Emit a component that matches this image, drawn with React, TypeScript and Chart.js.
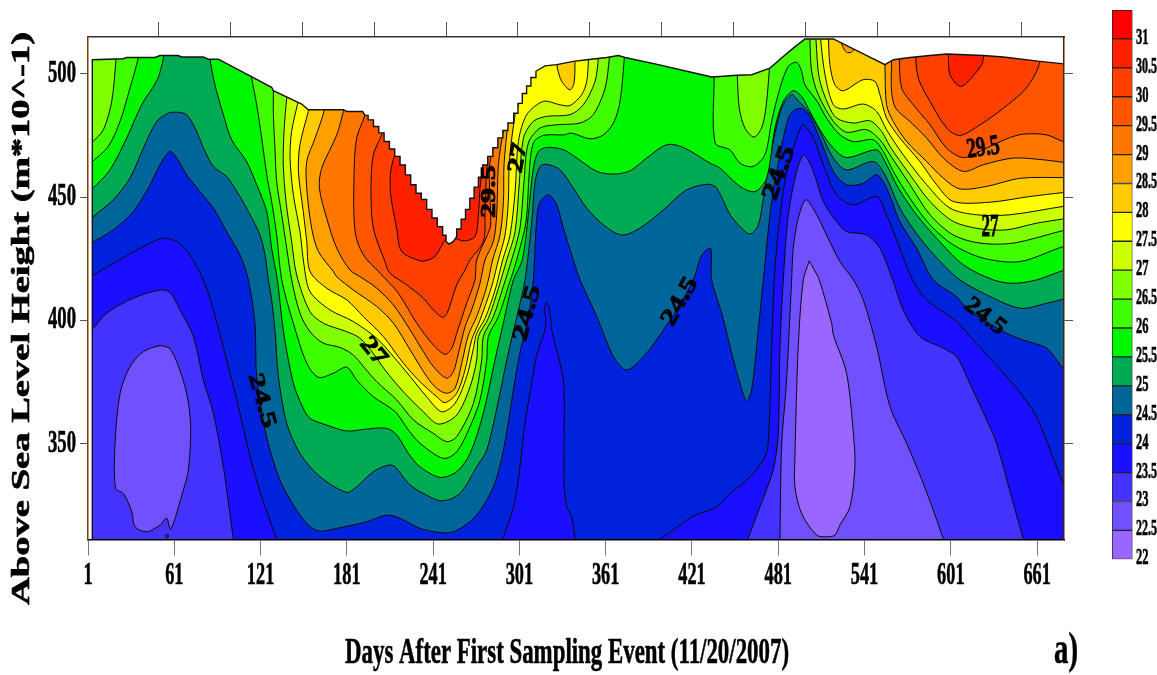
import React, { useEffect, useRef } from "react";
import { Chart, registerables } from "chart.js";

Chart.register(...registerables);

type P = number[];

// Axis ticks (days, metres*10^-1) and legend levels
const xTicks = [1, 61, 121, 181, 241, 301, 361, 421, 481, 541, 601, 661];
const xTopTicks = [50, 100, 150, 200, 250, 300, 350, 400, 450, 500, 550, 600, 650];
const yTicks = [350, 400, 450, 500];
const legendLevels = [22, 22.5, 23, 23.5, 24, 24.5, 25, 25.5, 26, 26.5, 27, 27.5, 28, 28.5, 29, 29.5, 30, 30.5, 31];
const legendColors = ["#9966ff", "#7050ff", "#4433ff", "#1a10ff", "#0022dd", "#006699", "#00aa55", "#00f500", "#40ff00", "#80ff00", "#ccff00", "#ffff00", "#ffcc00", "#ffa000", "#ff7700", "#ff5500", "#ff4000", "#ff2000", "#ff0000"];

// Water surface (top of the contoured domain); the limbs of the drawdown are stepped in the source
const surfaceLeft: P[] = [[4, 300], [4, 505.7], [25.6, 506.1], [27.9, 506.6], [47.6, 506.6], [51.1, 507.4], [63.8, 507.4], [66.1, 506.8], [81.2, 506.8], [84.7, 505.9], [91.6, 505.9], [128.7, 494.5], [129.9, 493.1], [149.6, 487.7], [154.2, 485.4], [178.6, 485.4], [180.9, 484.7], [192, 484.7], [193.6, 483.1]];
const surfaceFall: P[] = [[195.8, 483.1], [195.8, 481.3], [199.5, 481.3], [199.5, 478.6], [203.2, 478.6], [203.2, 476], [206.9, 476], [206.9, 472.5], [210.6, 472.5], [210.6, 469.5], [214.3, 469.5], [214.3, 466.5], [218, 466.5], [218, 463], [221.7, 463], [221.7, 459], [225.4, 459], [225.4, 455], [229.1, 455], [229.1, 451.5], [232.8, 451.5], [232.8, 449], [236.5, 449], [236.5, 445], [240.2, 445], [240.2, 441.5], [243.9, 441.5], [243.9, 438], [247.6, 438], [247.6, 434.5], [250, 434.5], [250, 432], [252.1, 430.9]];
const surfaceRise: P[] = [[255.1, 432], [257.4, 434], [257.4, 437], [260.5, 437], [260.5, 441], [263.5, 441], [263.5, 445], [266.5, 445], [266.5, 449.5], [269.5, 449.5], [269.5, 454], [272.5, 454], [272.5, 458], [275.5, 458], [275.5, 463], [279, 463], [279, 466.5], [282.5, 466.5], [282.5, 470], [286, 470], [286, 474], [289.5, 474], [289.5, 477], [293, 477], [293, 480], [297, 480], [297, 484], [300, 484], [300, 488], [303, 488], [303, 492], [306, 492], [306, 495], [309, 495], [309, 498.5], [312.5, 498.5], [312.5, 501]];
const surfaceRight: P[] = [[318.8, 503.2], [327, 503.7], [338.5, 505], [347.8, 505.7], [361.7, 506.6], [369.8, 507.4], [374.5, 506.6], [397.6, 503.7], [417.4, 501], [434.7, 498.7], [440.5, 498.9], [452, 499.4], [462.5, 499.6], [475.2, 502.3], [484.5, 507], [491.4, 510.4], [499.6, 514.1], [519.3, 514.1], [555.2, 503.7], [561, 505.7], [572.6, 506.6], [586.5, 507.4], [598.1, 508], [623.6, 507.4], [637.5, 506.8], [663, 505], [679.9, 504], [700, 504], [700, 525], [-5, 525], [-5, 300], [4, 300]];

// Warm isolines
const t245: P[] = [[-5, 425], [4, 431.3], [18.6, 436.7], [32.5, 444.1], [42.9, 453.6], [51.1, 463.1], [58, 468.5], [62.7, 465.8], [69.6, 459], [78.9, 452.2], [88.2, 445.5], [97.4, 436], [106.7, 426.5], [112.5, 416.4], [117.1, 398.8], [118.3, 377.2], [125.2, 352.8], [134.5, 335.2], [146.1, 323], [155.4, 316.3], [162.3, 314.5], [173.9, 315.6], [194.8, 318.3], [208.7, 321], [218, 319.7], [231.9, 315.6], [244.7, 314], [255.1, 314.2], [270.2, 320.3], [282.9, 332.5], [289.9, 347.4], [300.3, 383.9], [307.2, 401.5], [310.7, 416.4], [312.6, 437.4], [314.9, 447.5], [321.2, 450.9], [326.9, 446.8], [331.6, 437.4], [337.4, 426.5], [343.2, 416.4], [354.8, 401.5], [366.4, 385.3], [375.6, 379.9], [388.4, 386], [401.1, 396.1], [410.4, 404.2], [422, 416.4], [427.8, 426.5], [434, 429.2], [434.7, 416.4], [441.7, 402.9], [449.8, 383.9], [454.4, 374.5], [459, 367.3], [462.5, 371.8], [467.1, 396.1], [470.6, 416.4], [476.4, 448.2], [482.2, 467.1], [488, 482], [492.6, 485.4], [497.9, 485.8], [503, 482.7], [511.1, 471.9], [519.3, 460.4], [528.5, 455], [540.1, 455.6], [549.4, 459], [556.3, 453.6], [565.6, 440], [577.2, 429.2], [588.8, 416.4], [605, 409.6], [613.1, 404.2], [637.5, 395.4], [651.4, 392], [667.6, 388.7], [679.9, 380.1], [688.5, 377]];
const t25: P[] = [[-5, 436], [4, 441.7], [18.6, 448.9], [30.2, 457.7], [39.5, 469.8], [48.8, 480.7], [56.9, 484], [62.7, 484.4], [69.6, 483.4], [75.4, 478], [82.4, 468.5], [88.2, 462.4], [97.4, 458.3], [106.7, 450.2], [113.7, 442.8], [120.6, 434.6], [124.1, 426.5], [126.4, 416.4], [128.7, 408.3], [131, 396.1], [133.4, 377.2], [139.2, 358.2], [148.4, 346], [162.3, 336.6], [180.9, 330.2], [187.8, 332.5], [199.4, 338.6], [209.9, 341.3], [214.5, 340.6], [223.8, 333.9], [231.9, 330.5], [247, 326.8], [259.7, 329.8], [271.3, 340.6], [278.3, 347.4], [287.5, 370.4], [292.2, 383.9], [300.3, 404.2], [304.9, 416.4], [309.6, 440], [311.9, 456.3], [315.4, 462.4], [320, 463.3], [329.3, 461], [338.5, 453.6], [347.8, 445.5], [359.4, 438.7], [372.1, 434.6], [384.9, 437.4], [401.1, 444.8], [417.3, 452.9], [432.4, 455.2], [438.2, 453.6], [447.5, 442.8], [454.4, 438], [461.3, 435], [467.1, 438.7], [470.6, 449.5], [475.2, 465.8], [483.3, 486.1], [490.3, 491.5], [494.9, 489], [501.9, 484.7], [510, 476.6], [519.3, 465.8], [528.5, 461], [547.1, 464.4], [555.2, 459], [565.6, 445.5], [579.5, 433.3], [595.8, 422.5], [607.3, 416.4], [623.6, 411], [649, 404.9], [667.6, 406.9], [679.9, 408.6], [688.5, 409]];
const t255Left: P[] = [[-5, 448], [4, 453.3], [16.3, 461], [27.9, 473.9], [38.3, 487.4], [49.2, 497.6], [53.4, 506.4], [53.8, 510.4]];
const t255Main: P[] = [[85.8, 510.4], [85.8, 506.1], [89.3, 495.5], [95.1, 483.4], [100.9, 473.2], [111.3, 464.4], [118.3, 455], [125.3, 444.1], [128.7, 429.2], [132.7, 416.4], [136.8, 396.1], [143.8, 374.5], [150.7, 364.3], [155.4, 360.2], [167, 357.5], [180.9, 355.1], [194.8, 355.9], [208.7, 356.2], [215.7, 353.5], [223.8, 346], [231.9, 340.6], [245.8, 336.3], [257.4, 338.6], [266.7, 346], [275.9, 362.3], [284, 383.9], [289.8, 398.8], [296.8, 416.4], [303, 424.5], [307.2, 442.8], [310.7, 461.7], [314.2, 468.5], [320, 470.1], [331.6, 469.2], [340.9, 465.8], [354.8, 460.4], [366.4, 459.3], [377.9, 460.6], [389.5, 465.8], [403.4, 471.2], [415, 470.1], [433.6, 463.7], [440.5, 461.7], [454.4, 454.3], [464.8, 452.2], [472.9, 457.6], [478.7, 478], [484.5, 488.8], [491.4, 493.1], [497.2, 490.8], [503, 484.7], [510, 477.3], [519.3, 469.8], [528.5, 466], [549.4, 469.1], [555.2, 464.4], [564.5, 453.6], [577.2, 442.8], [591.1, 433.3], [609.7, 422.5], [630.5, 416.4], [644.4, 415], [660.7, 416.4], [679.2, 420.2], [688.5, 421]];
const t26Left: P[] = [[-5, 460], [4, 464.4], [15.1, 470.5], [23.3, 480.7], [30.2, 494.2], [36, 506.4], [36.7, 510.4]];
const t26Main: P[] = [[113.7, 502.3], [114.8, 498.2], [118.3, 487.4], [121.8, 473.9], [125.3, 459], [128.7, 448.2], [132.2, 434.6], [135.7, 416.4], [143.8, 398.8], [153.1, 382.6], [161.2, 376.9], [171.6, 378.5], [180.9, 381], [187.8, 375.8], [199.4, 369], [214.5, 363], [223.8, 355.5], [231.9, 350.1], [248.1, 344], [257.4, 346.7], [266.7, 356.9], [273.6, 367.7], [278.3, 383.9], [279.4, 393.4], [286.4, 401.5], [293.3, 413.7], [299.1, 424.5], [305.6, 440], [307.9, 460.4], [310.7, 471.9], [317.7, 475], [331.6, 475.2], [337.4, 475.9], [350.1, 473.6], [359.4, 475.2], [366.4, 480], [371, 488.8], [374, 506.6], [374.5, 510.4]];
const t26Right: P[] = [[436.4, 503.7], [436.4, 499], [437.1, 471.9], [447.5, 469.1], [454.4, 463.7], [463.6, 462.4], [471.7, 467.1], [476.4, 480.7], [482.2, 494.2], [488, 503], [493.8, 504.6], [497.2, 501], [499.6, 495.5], [508.1, 488.8], [514.6, 482], [523.9, 475.2], [533.2, 472.5], [547.1, 473.2], [554, 468.5], [561, 460.4], [572.6, 449.5], [586.5, 438.7], [602.7, 430.6], [623.6, 425.2], [649, 423.8], [679.2, 429.9], [688.5, 430.6]];
const t265Left: P[] = [[-5, 468], [4, 472.3], [11.7, 477.3], [17.5, 488.8], [20.5, 505.7], [21, 510.4]];
const t265Main: P[] = [[129.9, 498.2], [129.9, 493.5], [129.9, 483.4], [131, 469.8], [132.2, 456.3], [135.7, 442.8], [139.2, 429.2], [142.6, 416.4], [148.4, 402.9], [155.4, 395.4], [164.7, 390.7], [176.3, 389], [185.5, 385.9], [193.6, 380.5], [201.8, 375.1], [215.7, 367.7], [227.3, 359.6], [241.2, 354.1], [250.4, 350.8], [257.4, 352.8], [269, 366.3], [274.8, 383.9], [275.9, 393.4], [282.9, 401.5], [289.8, 413.7], [295.6, 424.5], [301.4, 437.4], [304.2, 456.3], [307.2, 471.9], [315.4, 478], [327, 479.3], [343.2, 480], [352.4, 483.4], [360.6, 494.2], [363.6, 506.6], [364, 510.4]];
const t265Pocket: P[] = [[452.5, 503.6], [452.5, 499.6], [453.9, 486.1], [457.8, 478], [464.1, 474.3], [469.4, 478], [472.4, 486.1], [474.8, 501.6], [475.2, 506.4]];
const t265Right: P[] = [[503, 515.8], [503, 514], [504.2, 501], [508.8, 491.5], [519.3, 480.7], [528.5, 476.3], [542.4, 477.3], [551.7, 473.2], [558.7, 467.1], [572.6, 455], [586.5, 442.8], [602.7, 434.6], [621.3, 431.3], [644.4, 431.3], [679.2, 436.4], [688.5, 437.4]];
const t27Main: P[] = [[140.3, 494.2], [139.2, 490.1], [137.3, 476.6], [136.8, 463.1], [138.7, 448.2], [142.6, 432], [146.1, 418.4], [155.4, 403.5], [164.7, 398.8], [180.9, 395.4], [190.2, 392.7], [199.4, 386.6], [207.6, 379.8], [220.3, 371], [234.2, 362.9], [244.6, 357.9], [257.4, 361.6], [266.7, 373.1], [271.3, 383.9], [272.5, 393.4], [279.4, 400.8], [286.4, 413], [292.2, 424.5], [298, 436], [301, 456.3], [303.8, 473.9], [310.7, 480.7], [320, 482.7], [336.2, 483.4], [345.5, 487.4], [353.6, 496.9], [355.9, 506.4], [356.2, 510.4]];
const t27Right: P[] = [[507.2, 515.8], [507.2, 514], [509.5, 498.2], [515.8, 487.4], [521.6, 482], [533.2, 480], [544.8, 480.9], [552.9, 476.6], [558.7, 470.5], [572.6, 459], [586.5, 448.2], [602.7, 440.1], [621.3, 437.1], [639.8, 436.7], [660.7, 439.4], [679.2, 441.1], [688.5, 442]];
const t275Main: P[] = [[148.4, 491.5], [146.6, 487.4], [142.6, 476.6], [141.5, 465.8], [143.8, 450.9], [148.4, 436], [151.2, 422.5], [155.4, 411.6], [169.3, 404.2], [185.5, 399.5], [201.8, 392.7], [213.4, 385.3], [225, 377.2], [236.5, 369], [247, 362.9], [256.2, 366.3], [264.3, 377.1], [269, 388.6], [271.3, 394.7], [277.1, 400.8], [284.1, 412.3], [289.4, 424.5], [294.5, 434.6], [298, 452.2], [300.3, 472.5], [306.1, 483.4], [317.7, 488.8], [329.3, 487.4], [336.2, 487.1], [344.3, 491.5], [347.8, 496.9], [349, 505.7], [349, 509]];
const t275Right: P[] = [[510.4, 515.8], [510.4, 514.1], [513.5, 499.6], [519.3, 487.4], [526.2, 485.7], [540.1, 487.7], [549.4, 484.7], [556.3, 477.3], [567.9, 467.1], [584.2, 455], [600.4, 445.5], [618.9, 442.8], [642.1, 442.8], [679.2, 446.2], [688.5, 446.8]];
const t28Main: P[] = [[156.5, 490], [154.2, 484.7], [148.4, 471.2], [147.3, 460.4], [150.7, 444.1], [153.1, 432], [155.4, 419.8], [167, 413], [180.9, 408.3], [192.5, 401.5], [206.4, 393.4], [220.3, 382.6], [231.9, 375.1], [243.5, 369], [249.3, 366.6], [257.4, 370.4], [263.2, 379.9], [267.8, 392], [273.6, 400.1], [281.7, 413.7], [286.4, 424.5], [291, 434.6], [293.3, 448.2], [294, 464.4], [298, 483.4], [300.3, 487.4]];
const t28Pocket: P[] = [[326.5, 506.4], [327.4, 502.3], [330.4, 496.9], [336.2, 493.5], [339, 496.2], [339.7, 505], [339.9, 507.7]];
const t28Right: P[] = [[515.8, 515.8], [516.9, 503.7], [520.4, 495.5], [526.2, 493.1], [540.1, 497.6], [548.2, 496.9], [551.7, 491.5], [556.3, 482], [565.6, 473.9], [579.5, 464.4], [591.1, 455], [602.7, 448.2], [628.2, 447.9], [656, 450.2], [679.2, 451.8], [688.5, 452.2]];
const t285Main: P[] = [[165.8, 490], [165.3, 485.1], [158.9, 473.9], [153.1, 464.4], [153.1, 453.6], [156.5, 437.4], [161.2, 427.9], [171.6, 419.8], [173.9, 417.7], [185.5, 412.3], [201.8, 405.6], [213.4, 398.8], [225, 388], [236.5, 377.2], [243.5, 372.4], [250.4, 370.4], [256.2, 372.4], [260.9, 382.6], [265.5, 394], [271.3, 401.5], [278.3, 413.7], [282.4, 424.5], [287.5, 434.6], [289.9, 448.2], [290.3, 463.1], [293.3, 480.7], [295.7, 486.1]];
const t285Pocket: P[] = [[523.9, 514.5], [525.7, 511.1], [528.5, 508.7], [532, 508.8], [534.3, 510.4], [535.5, 513.1]];
const t285Right: P[] = [[555.2, 507.7], [555.2, 503.7], [556.3, 487.4], [561, 480.6], [570.3, 472.5], [584.2, 464.4], [595.8, 457.6], [607.3, 453.3], [625.9, 454.3], [649.1, 457.6], [679.2, 457.9], [688.5, 457.9]];
const t29Main: P[] = [[181, 490], [178.6, 484.7], [174, 475.2], [163.5, 461.7], [161.9, 453.6], [167, 441.4], [174, 429.2], [183.2, 420.4], [190.2, 417.7], [201.8, 413], [213.4, 406.2], [225, 396.1], [234.2, 387.3], [241.2, 381.2], [250.4, 376.5], [255.1, 379.2], [258.6, 386.6], [263.2, 397.4], [267.8, 404.2], [273.6, 415], [277.1, 424.5], [282.9, 432], [285.2, 442.8], [286.4, 463.1], [289.9, 477.3], [292.2, 483.4]];
const t29Right: P[] = [[559.8, 510.4], [559.8, 505], [559.8, 492.8], [562.6, 486.1], [572.6, 480.6], [584.2, 473.9], [595.8, 465.8], [609.7, 460.4], [623.6, 463.1], [644.4, 465.8], [665.3, 465.1], [679.2, 464.1], [688.5, 463.7]];
const t295Main: P[] = [[195, 490], [193.6, 483.3], [187.8, 473.9], [186, 459], [186.7, 436], [192.5, 426.5], [204.1, 419.1], [216.8, 411], [229.6, 398.8], [241.2, 390], [249.3, 386.2], [253.9, 388.6], [257.4, 394.7], [264.3, 406.9], [270.1, 416.4], [271.3, 424.5], [280.6, 437.4], [281, 442.8], [280.1, 461.7], [282.9, 470.5], [284, 473.9]];
const t295Right: P[] = [[565.2, 510.4], [565.2, 506], [566.8, 494.2], [574.9, 487.4], [586.5, 479.3], [598.1, 469.8], [609.7, 466], [623.6, 469.2], [639.8, 473.6], [651.4, 475.5], [667.6, 475.2], [679.2, 472.5], [688.5, 471.9]];
const t30Main: P[] = [[207, 480], [205.2, 475.2], [199.4, 467.1], [197.8, 453.6], [199.4, 437.4], [207.5, 423.8], [211, 419.1], [222.6, 414.4], [234.2, 408.9], [242.3, 403.5], [248.1, 401.2], [251.6, 404.2], [257.4, 414.4], [263.2, 420.4], [266.7, 424.5], [276, 432], [277.1, 442.8], [277.8, 456.3], [278.7, 464.4], [279.4, 469.8]];
const t30Right: P[] = [[576, 510.4], [578.4, 498.2], [586.5, 488.8], [598.1, 478], [607.3, 475], [621.3, 479.3], [637.5, 486], [651.4, 492.8], [659.5, 499.6], [663, 505], [664.1, 510.4]];
const t305Main: P[] = [[215.6, 470], [211.5, 460.4], [211.5, 450.9], [215.6, 437.4], [219.1, 427.9], [231.9, 424.1], [235.4, 424.1], [242.3, 425.9], [249.3, 432.6], [252.8, 434.6], [257.4, 433], [263.2, 432.2], [270.2, 434], [272.5, 442.8], [273.6, 453.6], [275.5, 462.4], [276, 470]];
const t305Right: P[] = [[599.2, 510.4], [599.2, 508], [600.4, 499.6], [607.3, 494.9], [613.1, 496.9], [622.4, 503.7], [624, 507.7], [624.5, 510.4]];

// Cold isolines
const c24Left: P[] = [[-5, 414], [4, 418.1], [18.6, 423.1], [37.2, 429.2], [53.4, 433.3], [62.7, 431.9], [71.9, 426.5], [81.2, 416.4], [88.2, 404.2], [97.4, 383.9], [106.7, 362.3], [113.7, 344.7], [121.8, 328.5], [132.2, 311.3], [134.5, 308]];
const c24Mid: P[] = [[287.5, 308], [298, 327.1], [304.9, 358.2], [310.7, 378.5], [313, 386], [318.8, 396.1], [319.3, 401.5], [318.1, 403.5], [320, 407.2], [322.3, 402.9], [323.5, 396.1], [329.3, 382.6], [332, 373.1], [332, 335.2], [333.9, 324.4], [337.4, 320.3], [339.7, 311.5], [340.9, 308]];
const c24Right: P[] = [[388.4, 308], [401.1, 312.2], [422, 320.6], [438.2, 324.4], [447.4, 329.8], [459, 335.2], [470.6, 343.3], [474, 350.1], [476.4, 389.3], [478.2, 416.4], [481, 436], [485.6, 456.3], [491.4, 469.8], [497.2, 479], [498.9, 479.3], [505.4, 473.9], [512.3, 463.1], [521.6, 450.9], [533.2, 446.8], [549.4, 450.2], [556.3, 442.8], [565.6, 429.2], [574.4, 416.4], [584.2, 408.3], [605, 399.5], [616.6, 392], [639.8, 377.2], [651.4, 369], [660.7, 360.9], [679.9, 332.5], [688.5, 321.7], [688.5, 308]];
const c235Left: P[] = [[-5, 392], [4, 396.4], [14, 402.9], [32.5, 409], [51.1, 412.3], [58, 411.3], [65, 404.2], [74.3, 393.4], [81.2, 375.8], [88.2, 362.3], [95.1, 340.6], [102.1, 311.3], [103.2, 308]];
const c235Center: P[] = [[457.8, 308], [468.3, 324.4], [477.5, 339.3], [481, 354.2], [482.2, 389.3], [484.5, 416.4], [488, 442.8], [493.8, 460.4], [498.9, 467.1], [505.4, 460.4], [512.3, 448.2], [521.6, 440], [528.5, 436], [542.4, 434.6], [551.7, 429.2], [561, 415.7], [567.9, 404.2], [579.5, 393.4], [595.8, 388.7], [605, 385.3], [612, 377.2], [625.9, 359.6], [632.8, 350.1], [644.4, 325.7], [651.4, 311.3], [652.5, 308]];
const c23Left: P[] = [[58, 388.7], [51.1, 389.7], [39.5, 387.3], [30.2, 381.2], [23.3, 370.4], [19.8, 350.1], [20.2, 331.8], [25.6, 329.8], [31.4, 322.4], [33.7, 316.3], [41.8, 314.2], [51.1, 317], [55.7, 319.7], [58.5, 315.2], [67.3, 331.2], [70.8, 339.3], [72.4, 356.9], [69.6, 370.4], [62.7, 383.3], [58, 388.7]];
const c23Center: P[] = [[482.2, 308], [482.2, 311.3], [483.3, 348.7], [486.8, 375.8], [490.3, 416.4], [491.4, 429.2], [494.9, 441.4], [500.3, 448.9], [507.7, 442.8], [514.6, 434.6], [523.9, 423.8], [533.2, 416.4], [540.1, 408.3], [549.4, 389.3], [558.7, 365], [570.3, 350.1], [581.8, 333.9], [588.8, 323], [595.8, 311.3], [598.1, 308]];
const c225Center: P[] = [[502.6, 424.1], [498.4, 416.4], [494.9, 389.3], [492.6, 344.7], [492.6, 332.5], [497.2, 321.7], [507.7, 312.9], [514.6, 312.2], [520.4, 312.9], [523.9, 317], [530.9, 324.4], [534.3, 340.6], [533.6, 351.5], [528.5, 378.5], [519.3, 394.1], [518.1, 398.8], [509.5, 416.4], [505.4, 421.1], [502.6, 424.1]];
const coldDot: P[] = [[55.9, 312.5]];

// Contour labels
const labelTexts = ["24.5", "27", "29.5", "27", "24.5", "24.5", "24.5", "24.5", "29.5", "27"];
const labelDays = [121.8, 199.4, 279.9, 300.2, 306.5, 412.7, 481.7, 624.8, 623.6, 628.3];
const labelHeights = [367.4, 387.3, 452.2, 465.8, 402.8, 407.6, 459.7, 401.5, 469.8, 437.4];
const labelAngles = [74, 50, -90, -80, -75, -60, -70, 38, -8, 0];
const labelLengths = [56, 30, 53, 30, 57, 52, 56, 46, 33, 17];
const labelFonts = [22, 24, 22, 22, 22, 24, 24, 24, 28, 32];

const titleX = "Days After First Sampling Event (11/20/2007)";
const titleY = "Above Sea Level Height (m*10^-1)";
const panelTag = "a)";

const SERIF = '"Liberation Serif", "Times New Roman", serif';
const TOP = 525;
const BOTTOM = 300;
const X_MIN = 1;
const X_MAX = 679.7;
const Y_MIN = 311.1;
const Y_MAX = 514.9;

const fillRegions: { pts: P[]; color: string; close: "top" | "bottom" | "none" }[] = [
  { pts: [[-10, BOTTOM], [700, BOTTOM], [700, TOP], [-10, TOP], [-10, BOTTOM]], color: "#0022dd", close: "none" },
  { pts: t245, color: "#006699", close: "top" },
  { pts: t25, color: "#00aa55", close: "top" },
  { pts: t255Left, color: "#00f500", close: "top" },
  { pts: t255Main, color: "#00f500", close: "top" },
  { pts: t26Left, color: "#40ff00", close: "top" },
  { pts: t26Main, color: "#40ff00", close: "top" },
  { pts: t26Right, color: "#40ff00", close: "top" },
  { pts: t265Left, color: "#80ff00", close: "top" },
  { pts: t265Main, color: "#80ff00", close: "top" },
  { pts: t265Pocket, color: "#80ff00", close: "top" },
  { pts: t265Right, color: "#80ff00", close: "top" },
  { pts: t27Main, color: "#ccff00", close: "top" },
  { pts: t27Right, color: "#ccff00", close: "top" },
  { pts: t275Main, color: "#ffff00", close: "top" },
  { pts: t275Right, color: "#ffff00", close: "top" },
  { pts: t28Main, color: "#ffcc00", close: "top" },
  { pts: t28Pocket, color: "#ffcc00", close: "top" },
  { pts: t28Right, color: "#ffcc00", close: "top" },
  { pts: t285Main, color: "#ffa000", close: "top" },
  { pts: t285Pocket, color: "#ffa000", close: "top" },
  { pts: t285Right, color: "#ffa000", close: "top" },
  { pts: t29Main, color: "#ff7700", close: "top" },
  { pts: t29Right, color: "#ff7700", close: "top" },
  { pts: t295Main, color: "#ff5500", close: "top" },
  { pts: t295Right, color: "#ff5500", close: "top" },
  { pts: t30Main, color: "#ff4000", close: "top" },
  { pts: t30Right, color: "#ff4000", close: "top" },
  { pts: t305Main, color: "#ff2000", close: "top" },
  { pts: t305Right, color: "#ff2000", close: "top" },
  { pts: c24Left, color: "#1a10ff", close: "bottom" },
  { pts: c24Mid, color: "#1a10ff", close: "bottom" },
  { pts: c24Right, color: "#1a10ff", close: "bottom" },
  { pts: c235Left, color: "#4433ff", close: "bottom" },
  { pts: c235Center, color: "#4433ff", close: "bottom" },
  { pts: c23Left, color: "#7050ff", close: "none" },
  { pts: c23Center, color: "#7050ff", close: "bottom" },
  { pts: c225Center, color: "#9966ff", close: "none" },
];

function closedPoints(pts: P[], close: string) {
  const out = pts.map(([x, y]) => ({ x, y }));
  const first = pts[0];
  const last = pts[pts.length - 1];
  if (close !== "none") {
    const edge = close === "top" ? TOP : BOTTOM;
    out.push({ x: last[0], y: edge }, { x: first[0], y: edge }, { x: first[0], y: first[1] });
  }
  return out;
}

function stretched(
  ctx: CanvasRenderingContext2D,
  text: string,
  x: number,
  y: number,
  size: number,
  width: number,
  angle = 0,
  align: "left" | "center" | "right" = "center",
  baseline: CanvasTextBaseline = "alphabetic",
  weight = 0.6,
) {
  ctx.save();
  ctx.font = `bold ${size}px ${SERIF}`;
  ctx.fillStyle = "#000";
  ctx.strokeStyle = "#000";
  ctx.lineWidth = weight;
  ctx.textBaseline = baseline;
  ctx.textAlign = align;
  const natural = ctx.measureText(text).width;
  ctx.translate(x, y);
  ctx.rotate((angle * Math.PI) / 180);
  ctx.scale(width / natural, 1);
  ctx.strokeText(text, 0, 0);
  ctx.fillText(text, 0, 0);
  ctx.restore();
}

const textPlugin = {
  id: "chartText",
  afterDraw(chart: any) {
    const { ctx, scales } = chart;
    const digit = 9.15;
    xTicks.forEach((t) => {
      const s = String(t);
      stretched(ctx, s, scales.x.getPixelForValue(t), 584, 31, s.length * digit);
    });
    yTicks.forEach((t) => {
      stretched(ctx, String(t), 76, scales.y.getPixelForValue(t) + 8, 31, 28, 0, "right");
    });
    labelTexts.forEach((text, i) => {
      stretched(ctx, text, scales.x.getPixelForValue(labelDays[i]), scales.y.getPixelForValue(labelHeights[i]), labelFonts[i], labelLengths[i], labelAngles[i], "center", "middle", 0.8);
    });
    stretched(ctx, titleX, 567, 663, 36, 444);
    stretched(ctx, panelTag, 1066, 663, 45, 24);
    stretched(ctx, titleY, 28.5, 605, 25, 573, -90, "left");
  },
};

const legendTextPlugin = {
  id: "legendText",
  afterDraw(chart: any) {
    const { ctx, scales } = chart;
    legendLevels.forEach((lv) => {
      const s = String(lv);
      const w = s.length === 2 ? 12.5 : 21;
      stretched(ctx, s, 36, scales.y.getPixelForValue(lv) + 5, 23, w, 0, "left");
    });
  },
};

function plotScale(axis: "x" | "y", position: string, size: number, tickLength: number, ticks: number[], borderColor: string, tickColor: string) {
  return {
    type: "linear",
    axis,
    position,
    min: axis === "x" ? X_MIN : Y_MIN,
    max: axis === "x" ? X_MAX : Y_MAX,
    border: { color: borderColor, width: 1.5, z: 2 },
    grid: { drawOnChartArea: false, drawTicks: true, tickLength, color: tickColor, lineWidth: 1 },
    ticks: { display: false, autoSkip: false },
    afterBuildTicks(scale: any) {
      scale.ticks = ticks.map((value) => ({ value }));
    },
    afterFit(scale: any) {
      if (axis === "x") scale.height = size;
      else scale.width = size;
    },
  };
}

export default function App() {
  const mainRef = useRef<HTMLCanvasElement>(null);
  const legendRef = useRef<HTMLCanvasElement>(null);

  useEffect(() => {
    const bands: any[] = fillRegions.map((r) => ({
      type: "scatter",
      data: closedPoints(r.pts, r.close),
      showLine: true,
      fill: "shape",
      backgroundColor: r.color,
      borderColor: "#0a0a0a",
      borderWidth: 1,
      pointRadius: 0,
      tension: 0.3,
      xAxisID: "x",
      yAxisID: "y",
    }));
    bands.push({
      type: "scatter",
      data: coldDot.map(([x, y]) => ({ x, y })),
      pointRadius: 1.5,
      pointBackgroundColor: "#4433ff",
      pointBorderColor: "#0a0a0a",
      pointBorderWidth: 1,
      xAxisID: "x",
      yAxisID: "y",
    });
    bands.push({
      type: "scatter",
      data: [...surfaceLeft, ...surfaceFall, ...surfaceRise, ...surfaceRight].map(([x, y]) => ({ x, y })),
      showLine: true,
      fill: "shape",
      backgroundColor: "#ffffff",
      borderColor: "#111111",
      borderWidth: 1.4,
      pointRadius: 0,
      tension: 0,
      xAxisID: "x",
      yAxisID: "y",
    });

    const main = new Chart(mainRef.current!, {
      type: "scatter",
      data: { datasets: bands.reverse() },
      options: {
        responsive: false,
        animation: false,
        layout: { padding: 0 },
        plugins: { legend: { display: false }, tooltip: { enabled: false }, title: { display: false } },
        scales: {
          x: plotScale("x", "bottom", 135.5, 16, xTicks, "#000000", "#777777"),
          x2: plotScale("x", "top", 37, 15, xTopTicks, "#333333", "#555555"),
          y: plotScale("y", "left", 88, 8, yTicks, "#7a3a10", "#555555"),
          y2: plotScale("y", "right", 93, 9, yTicks, "#4a2008", "#555555"),
        } as any,
      },
      plugins: [textPlugin],
    } as any);

    const legend = new Chart(legendRef.current!, {
      type: "bar",
      data: {
        labels: ["scale"],
        datasets: legendLevels.map((lv, i) => ({
          data: [[lv, lv + 0.5]],
          backgroundColor: legendColors[i],
          borderColor: "#222222",
          borderWidth: 1,
          borderSkipped: false,
          barPercentage: 1,
          categoryPercentage: 1,
          grouped: false,
        })),
      },
      options: {
        responsive: false,
        animation: false,
        layout: { padding: { left: 12, right: 24.5, top: 10, bottom: 115.7 } },
        plugins: { legend: { display: false }, tooltip: { enabled: false } },
        scales: {
          x: { display: false },
          y: { display: false, min: 22, max: 31.5 },
        },
      },
      plugins: [legendTextPlugin],
    } as any);

    return () => {
      main.destroy();
      legend.destroy();
    };
  }, []);

  return (
    <div style={{ position: "fixed", left: 0, top: 0, width: 1157, height: 675, background: "#fff", overflow: "hidden" }}>
      <canvas ref={mainRef} width={1157} height={675} style={{ position: "absolute", left: 0, top: 0 }} />
      <canvas ref={legendRef} width={57} height={675} style={{ position: "absolute", left: 1100, top: 0 }} />
    </div>
  );
}
